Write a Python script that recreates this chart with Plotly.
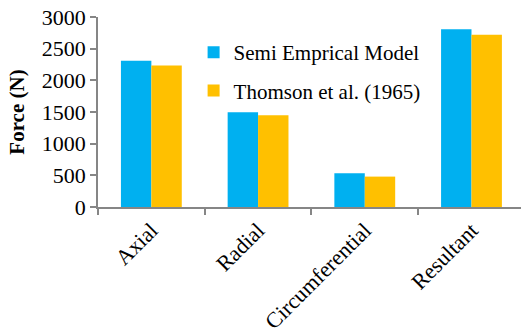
import plotly.graph_objects as go

categories = ["Axial", "Radial", "Circumferential", "Resultant"]
semi_empirical = [2310, 1495, 532, 2805]
thomson = [2235, 1450, 480, 2720]
series_names = ["Semi Emprical Model", "Thomson et al. (1965)"]
y_ticks = [0, 500, 1000, 1500, 2000, 2500, 3000]

FONT = "Liberation Serif"
AXIS_COLOR = "#868686"

fig = go.Figure()
fig.add_trace(go.Bar(x=categories, y=semi_empirical, name=series_names[0],
                     marker=dict(color="#00B0F0", line=dict(width=0)),
                     legendgroup="a"))
fig.add_trace(go.Bar(x=categories, y=thomson, name=series_names[1],
                     marker=dict(color="#FFC000", line=dict(width=0)),
                     legendgroup="b"))

fig.update_layout(
    width=521, height=330,
    margin=dict(l=98, r=0, t=17, b=123, autoexpand=False),
    paper_bgcolor="white", plot_bgcolor="white",
    font=dict(family=FONT, size=22, color="black"),
    barmode="group", bargap=0.43, bargroupgap=0,
    showlegend=True,
    legend=dict(x=0.226, y=0.921, xanchor="left", yanchor="top",
                bgcolor="rgba(0,0,0,0)", font=dict(family=FONT, size=21),
                traceorder="grouped", tracegroupgap=8),
    xaxis=dict(range=[-0.5, 3.464], showline=True, linecolor=AXIS_COLOR,
               linewidth=1.5, ticks="outside", tickson="boundaries",
               ticklen=6, tickcolor=AXIS_COLOR, tickwidth=1.5,
               tickangle=-45, showgrid=False, fixedrange=True,
               automargin=False, ticklabeloverflow="allow"),
    yaxis=dict(range=[0, 3000], tickvals=y_ticks, showline=True,
               linecolor=AXIS_COLOR, linewidth=1.5, ticks="outside",
               ticklen=6, tickcolor=AXIS_COLOR, tickwidth=1.5,
               showgrid=False, zeroline=False, automargin=False,
               fixedrange=True, ticklabeloverflow="allow",
               title=dict(text="<b>Force (N)</b>", standoff=11,
                          font=dict(family=FONT, size=21))),
)

fig.write_html("out.html",
               config={"displayModeBar": False},
               post_script="document.body.style.margin='0';"
                           "document.body.style.overflow='hidden';")
